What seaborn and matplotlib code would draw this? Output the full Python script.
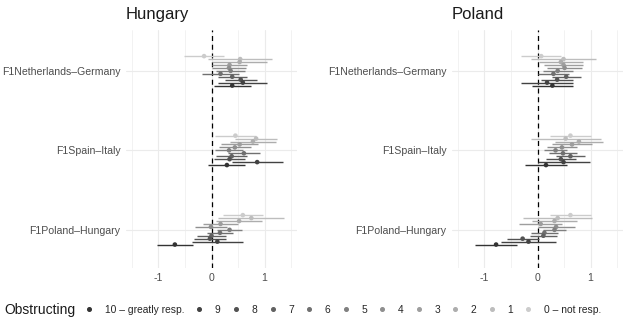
import numpy as np
import pandas as pd
import seaborn as sns
import matplotlib.pyplot as plt
from matplotlib.lines import Line2D

# categories / levels
countries = ['Hungary', 'Poland']
pairs = ['F1Netherlands–Germany', 'F1Spain–Italy', 'F1Poland–Hungary']
levels = list(range(11))  # 0 = not resp. ... 10 = greatly resp.
legend_labels = ['10 – greatly resp.', '9', '8', '7', '6', '5', '4', '3', '2', '1', '0 – not resp.']

# estimates and CI half-widths, ordered by level 0..10
hu_nlde_est = [-0.14, 0.54, 0.53, 0.34, 0.33, 0.36, 0.17, 0.39, 0.55, 0.59, 0.39]
hu_nlde_ci = [0.38, 0.60, 0.52, 0.33, 0.32, 0.27, 0.34, 0.27, 0.30, 0.46, 0.35]
hu_esit_est = [0.45, 0.84, 0.78, 0.53, 0.44, 0.33, 0.61, 0.38, 0.34, 0.86, 0.29]
hu_esit_ci = [0.38, 0.40, 0.44, 0.35, 0.30, 0.26, 0.30, 0.29, 0.30, 0.48, 0.35]
hu_plhu_est = [0.59, 0.75, 0.52, 0.17, -0.01, 0.34, 0.16, 0.00, -0.03, 0.11, -0.69]
hu_plhu_ci = [0.38, 0.62, 0.43, 0.33, 0.30, 0.24, 0.25, 0.27, 0.30, 0.48, 0.34]

pl_nlde_est = [0.07, 0.49, 0.44, 0.49, 0.51, 0.38, 0.30, 0.54, 0.37, 0.18, 0.28]
pl_nlde_ci = [0.38, 0.62, 0.41, 0.37, 0.33, 0.28, 0.29, 0.27, 0.30, 0.49, 0.39]
pl_esit_est = [0.62, 0.53, 0.78, 0.65, 0.46, 0.34, 0.48, 0.62, 0.44, 0.49, 0.16]
pl_esit_ci = [0.38, 0.66, 0.45, 0.38, 0.29, 0.21, 0.26, 0.28, 0.28, 0.49, 0.39]
pl_plhu_est = [0.62, 0.38, 0.32, 0.06, 0.35, 0.32, 0.13, 0.11, -0.28, -0.17, -0.78]
pl_plhu_ci = [0.38, 0.65, 0.43, 0.40, 0.35, 0.22, 0.25, 0.26, 0.30, 0.51, 0.39]

series = {
    ('Hungary', pairs[0]): (hu_nlde_est, hu_nlde_ci),
    ('Hungary', pairs[1]): (hu_esit_est, hu_esit_ci),
    ('Hungary', pairs[2]): (hu_plhu_est, hu_plhu_ci),
    ('Poland', pairs[0]): (pl_nlde_est, pl_nlde_ci),
    ('Poland', pairs[1]): (pl_esit_est, pl_esit_ci),
    ('Poland', pairs[2]): (pl_plhu_est, pl_plhu_ci),
}

rows = []
for (country, pair), (est, ci) in series.items():
    for lev, e, c in zip(levels, est, ci):
        rows.append(dict(country=country, pair=pair, level=lev, est=e, lo=e - c, hi=e + c))
df = pd.DataFrame(rows)

# dodge within each category (level 0 on top)
step = 0.037
df['ypos'] = df['pair'].map({p: i for i, p in enumerate(pairs)}) + (df['level'] - 5) * step

# grey scale like scale_colour_grey: 10 dark -> 0 light
greys = np.linspace(0.8, 0.2, 11)
palette = {lev: (g, g, g) for lev, g in zip(levels, greys)}

sns.set_theme(style='white')
plt.rcParams['font.family'] = ['Liberation Sans', 'DejaVu Sans']
plt.rcParams['axes.unicode_minus'] = False

fig = plt.figure(figsize=(6.4, 3.22), dpi=100)
lefts = [126 / 640, 452 / 640]
for country, left in zip(countries, lefts):
    ax = fig.add_axes([left, 54 / 322, 171 / 640, 238.5 / 322])
    sub = df[df.country == country]
    ax.set_xlim(-1.61, 1.61)
    ax.set_ylim(2.48, -0.52)
    ax.set_xticks([-1, 0, 1])
    ax.set_xticks([-1.5, -0.5, 0.5, 1.5], minor=True)
    ax.set_yticks(range(len(pairs)))
    ax.set_yticklabels(pairs)
    ax.grid(True, which='major', color='#EBEBEB', lw=0.8)
    ax.grid(True, which='minor', axis='x', color='#EBEBEB', lw=0.45)
    ax.set_axisbelow(True)
    for s in ax.spines.values():
        s.set_visible(False)
    ax.tick_params(axis='both', which='both', length=0, labelsize=7.6, labelcolor='#4D4D4D')
    ax.tick_params(axis='y', pad=4)
    ax.tick_params(axis='x', pad=3.5)
    ax.axvline(0, color='black', lw=0.9, linestyle=(0, (4, 3)), zorder=1)
    for lev in levels:
        r = sub[sub.level == lev]
        ax.hlines(r.ypos, r.lo, r.hi, color=palette[lev], lw=1.0, zorder=2)
    sns.scatterplot(data=sub, x='est', y='ypos', hue='level', palette=palette,
                    s=11, linewidth=0, legend=False, ax=ax, zorder=3)
    ax.set_xlabel('')
    ax.set_ylabel('')
    ax.set_title(country, loc='left', fontsize=12, pad=7.5, color='#1A1A1A')

handles = [Line2D([], [], marker='o', linestyle='', color=palette[lev], markersize=2.6)
           for lev in levels[::-1]]
fig.text(4 / 640, 12 / 322, 'Obstructing', fontsize=10, va='center', ha='left', color='#1A1A1A')
fig.legend(handles, legend_labels, ncol=11, loc='center left',
           bbox_to_anchor=(84 / 640, 12 / 322), frameon=False, fontsize=7.4,
           handlelength=1.0, handletextpad=1.0, columnspacing=1.0,
           borderpad=0, borderaxespad=0)

fig.savefig('out.png', dpi=100)
